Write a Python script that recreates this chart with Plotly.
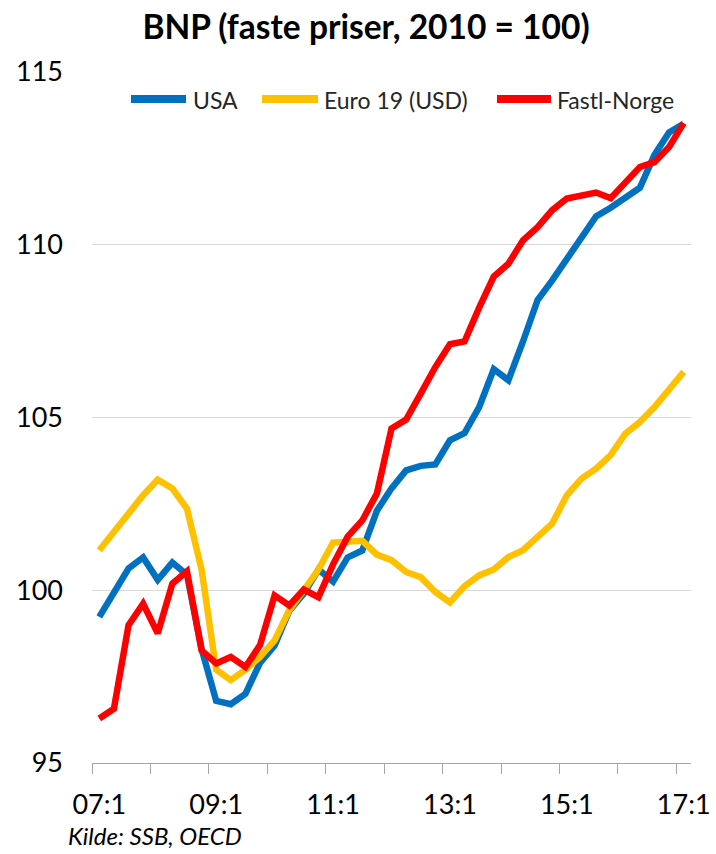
import plotly.graph_objects as go

# ---- data ----
quarters = [f"{y:02d}:{q}" for y in range(7, 17) for q in range(1, 5)] + ["17:1"]

usa = [99.23, 99.95, 100.63, 100.95, 100.30, 100.80, 100.45, 98.30,
       96.80, 96.70, 97.00, 97.90, 98.40, 99.40, 99.90, 100.60,
       100.25, 100.95, 101.15, 102.30, 102.95, 103.47, 103.60, 103.64,
       104.34, 104.55, 105.30, 106.40, 106.08, 107.20, 108.40, 108.97,
       109.60, 110.22, 110.82, 111.07, 111.34, 111.65, 112.60, 113.25,
       113.50]

euro19 = [101.16, 101.70, 102.20, 102.75, 103.20, 102.95, 102.36, 100.60,
          97.70, 97.40, 97.70, 98.07, 98.55, 99.42, 100.00, 100.60,
          101.38, 101.40, 101.43, 101.03, 100.87, 100.53, 100.38, 99.95,
          99.65, 100.12, 100.43, 100.60, 100.96, 101.16, 101.54, 101.93,
          102.75, 103.23, 103.52, 103.91, 104.53, 104.87, 105.30, 105.79,
          106.32]

norge = [96.29, 96.57, 98.99, 99.61, 98.75, 100.19, 100.55, 98.26,
         97.88, 98.07, 97.78, 98.41, 99.85, 99.56, 100.02, 99.80,
         100.75, 101.55, 102.02, 102.80, 104.68, 104.94, 105.69, 106.46,
         107.12, 107.20, 108.18, 109.08, 109.45, 110.13, 110.51, 111.00,
         111.34, 111.43, 111.51, 111.35, 111.82, 112.25, 112.39, 112.83,
         113.52]

series_names = ["USA", "Euro 19 (USD)", "Fastl-Norge"]
series_values = [usa, euro19, norge]
series_colors = ["#0070C0", "#FFC000", "#FF0000"]

y_ticks = [95, 100, 105, 110, 115]
label_every = 8

title_text = "BNP (faste priser, 2010 = 100)"
source_text = "Kilde: SSB, OECD"

# ---- layout constants ----
W, H = 716, 854
ML, MR, MT, MB = 92, 25, 72, 91
PW, PH = W - ML - MR, H - MT - MB
FONT = "Lato"


def px_paper(x, y):
    return (x - ML) / PW, (H - MB - y) / PH


xpos = list(range(len(quarters)))

fig = go.Figure()
for name, vals, col in zip(series_names, series_values, series_colors):
    fig.add_trace(go.Scatter(x=xpos, y=vals, mode="lines", name=name,
                             line=dict(color=col, width=6.5),
                             showlegend=False))

# custom legend (line swatch + text)
legend_y = 99
legend_items = [(131, 186, 191), (262, 318, 322), (497, 551, 555)]
shapes = []
annotations = []
for (lx0, lx1, tx), name, col in zip(legend_items, series_names, series_colors):
    x0, yy = px_paper(lx0, legend_y)
    x1, _ = px_paper(lx1, legend_y)
    shapes.append(dict(type="line", xref="paper", yref="paper",
                       x0=x0, x1=x1, y0=yy, y1=yy,
                       line=dict(color=col, width=8)))
    tx_p, ty_p = px_paper(tx, legend_y + 1)
    annotations.append(dict(xref="paper", yref="paper", x=tx_p, y=ty_p,
                            xanchor="left", yanchor="middle", showarrow=False,
                            text=name, font=dict(family=FONT, size=23, color="#262626")))

sx, sy = px_paper(66, 835)
annotations.append(dict(xref="paper", yref="paper", x=sx, y=sy,
                        xanchor="left", yanchor="middle", showarrow=False,
                        text=f"<i>{source_text}</i>",
                        font=dict(family=FONT, size=24, color="#000000")))

fig.update_layout(
    width=W, height=H,
    margin=dict(l=ML, r=MR, t=MT, b=MB, autoexpand=False),
    paper_bgcolor="white", plot_bgcolor="white",
    title=dict(text=f"<b>{title_text}</b>", x=366 / W, xanchor="center",
               y=1 - 27 / H, yanchor="middle", yref="container",
               font=dict(family=FONT, size=33.5, color="#000000")),
    shapes=shapes, annotations=annotations,
    showlegend=False,
    font=dict(family=FONT, color="#000000"),
)

tick_idx = list(range(0, len(quarters), label_every))
fig.update_xaxes(
    range=[-0.5, len(quarters) - 0.5],
    tickmode="array", tickvals=tick_idx, ticktext=[quarters[i] for i in tick_idx],
    ticks="", ticklabelstandoff=18,
    tickfont=dict(family=FONT, size=27, color="#000000"),
    showline=True, linecolor="#A6A6A6", linewidth=1,
    showgrid=False, zeroline=False,
    minor=dict(ticks="outside", ticklen=10, tickcolor="#A6A6A6", tickwidth=1,
               tick0=-0.5, dtick=4, showgrid=False),
)
fig.update_yaxes(
    range=[y_ticks[0], y_ticks[-1]],
    tickmode="array", tickvals=y_ticks,
    ticks="", ticklabelstandoff=28,
    tickfont=dict(family=FONT, size=27, color="#000000"),
    showgrid=True, gridcolor="#D9D9D9", gridwidth=1,
    showline=False, zeroline=False,
)

fig.write_html("out.html", config={"displayModeBar": False},
               post_script="document.body.style.margin='0px';")
